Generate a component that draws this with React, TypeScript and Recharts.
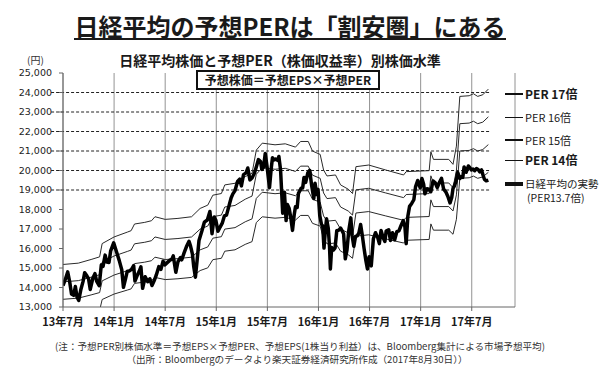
import React from 'react';
import { LineChart, Line, XAxis, YAxis, CartesianGrid, ReferenceLine } from 'recharts';

// months since 2013-07-01
const nikkeiMonths = [
  0.0, 0.3, 0.55, 0.8, 1.0, 1.25, 1.45, 1.65, 1.85, 2.1, 2.35, 2.55, 2.8, 3.0, 3.2, 3.5, 3.75, 3.95,
  4.25, 4.5, 4.7, 4.95, 5.15, 5.4, 5.6, 5.95, 6.3, 6.6, 6.9, 7.1, 7.35, 7.55, 7.8, 8.05, 8.3, 8.45,
  8.7, 8.95, 9.15, 9.35, 9.65, 9.95, 10.2, 10.45, 10.7, 10.95, 11.25, 11.5, 11.75, 11.95, 12.3, 12.5,
  12.8, 12.95, 13.25, 13.5, 13.8, 13.95, 14.2, 14.5, 14.8, 14.95, 15.2, 15.35, 15.55, 15.75, 15.97,
  16.3, 16.6, 16.95, 17.25, 17.5, 17.75, 17.95, 18.2, 18.45, 18.7, 18.95, 19.2, 19.5, 19.75, 19.95,
  20.2, 20.5, 20.75, 20.95, 21.2, 21.5, 21.7, 21.95, 22.2, 22.5, 22.75, 22.95, 23.2, 23.35, 23.55,
  23.75, 23.95, 24.25, 24.45, 24.6, 24.8, 24.95, 25.2, 25.35, 25.55, 25.8, 26.0, 26.2, 26.35, 26.55,
  26.75, 26.95, 27.15, 27.3, 27.5, 27.65, 27.95, 28.15, 28.3, 28.5, 28.75, 28.97, 29.2, 29.45, 29.6,
  29.8, 29.95, 30.15, 30.35, 30.5, 30.65, 30.8, 30.95, 31.15, 31.3, 31.4, 31.55, 31.75, 31.95, 32.15,
  32.4, 32.6, 32.8, 32.95, 33.15, 33.35, 33.55, 33.8, 33.95, 34.15, 34.35, 34.55, 34.75, 34.95, 35.15,
  35.35, 35.55, 35.75, 35.95, 36.2, 36.45, 36.7, 36.95, 37.15, 37.35, 37.6, 37.8, 37.95, 38.25, 38.45,
  38.7, 38.95, 39.2, 39.45, 39.7, 39.95, 40.15, 40.3, 40.5, 40.7, 40.95, 41.2, 41.4, 41.65, 41.95,
  42.15, 42.35, 42.5, 42.75, 42.95, 43.2, 43.45, 43.7, 43.95, 44.2, 44.45, 44.7, 44.95, 45.2, 45.45,
  45.65, 45.8, 45.95, 46.15, 46.35, 46.6, 46.8, 46.95, 47.1, 47.35, 47.6, 47.8, 47.95, 48.15, 48.35,
  48.55, 48.75, 48.95, 49.15, 49.35, 49.5, 49.7, 49.95,
];
const nikkeiClose = [
  14100, 14450, 14800, 14250, 13670, 13600, 14050, 13500, 13340, 13900, 14300, 14760, 14600, 14450, 13900, 14470, 14710, 14330,
  14090, 15160, 15080, 15660, 15300, 15280, 15880, 16290, 15810, 15390, 14910, 14010, 14460, 14840, 14850, 14930, 15120, 14330,
  14600, 14830, 15060, 13960, 14550, 14300, 14450, 14100, 14340, 14630, 15070, 14930, 15350, 15160, 15300, 15380,
  15460, 15620, 14780, 15320, 15540, 15420, 15750, 16100, 16370, 16170, 15710, 15080, 14530, 15390, 16410,
  16880, 17350, 17460, 17900, 16760, 17620, 17450, 16880, 17100, 17300, 17670, 17710, 18200, 18600, 18800,
  18970, 19440, 19560, 19210, 19790, 19880, 20130, 19520, 19620, 19890, 20260, 20560, 20460, 20050, 20170,
  20870, 20240, 19120, 20100, 20650, 20540, 20590, 20520, 20720, 20030, 17810, 18890, 17430, 18260, 18070,
  17570, 16930, 17730, 18140, 18100, 18830, 19080, 19120, 19640, 19390, 19880, 20010, 19230, 18560, 19350,
  18770, 19030, 17700, 17240, 17150, 16020, 16890, 17520, 17040, 16080, 14950, 16050, 15920, 16030, 16910,
  16940, 17050, 16890, 16760, 15470, 15930, 16880, 17570, 16670, 16110, 16620, 16650, 16800, 17230, 16670,
  16020, 15430, 14950, 15580, 15110, 16500, 16810, 16570, 16250, 16920, 16550, 16360, 16890, 16960, 16410,
  16810, 16450, 16860, 16900, 17180, 17430, 17130, 16250, 17670, 18160, 18310, 18500, 19160, 19490, 19110,
  19590, 19290, 18810, 19060, 19040, 18910, 19460, 19380, 19120, 19380, 19600, 19040, 18910, 18670, 18340,
  18620, 19080, 19200, 19450, 19900, 19590, 19690, 19650, 20180, 19910, 20230, 20130, 20030, 20080, 19990,
  20100, 20050, 19930, 20030, 19730, 19540, 19470, 19510,
];

const epsMonths = [
  0, 1.8, 3.3, 4.3, 4.6, 6.0, 7.6, 8.0, 8.4, 9.6, 10.4, 10.8, 12.0, 13.5, 15.1, 16.1, 17.0, 17.6, 18.6,
  19.0, 20.2, 21.4, 22.2, 22.7, 23.4, 24.9, 26.1, 27.3, 27.9, 28.8, 29.3, 30.2, 30.6, 31.0, 32.0, 32.6,
  33.5, 34.0, 34.4, 35.9, 37.9, 40.0, 40.3, 43.0, 43.2, 43.5, 45.3, 45.8, 46.2, 46.6, 47.7, 48.2, 48.7,
  49.3, 49.95,
];
const forwardEps = [
  893, 897, 908, 916, 956, 976, 991, 995, 1015, 1020, 1025, 1037, 1029, 1032, 1037, 1062, 1072, 1102, 1107,
  1133, 1138, 1158, 1168, 1238, 1259, 1254, 1257, 1247, 1264, 1264, 1235, 1225, 1178, 1160, 1163, 1133,
  1120, 1107, 1188, 1193, 1178, 1163, 1173, 1176, 1233, 1210, 1210, 1195, 1250, 1400, 1402, 1408, 1400,
  1405, 1422,
];
const perMultiples = [17, 16, 15, 14];

const xTicks = [0, 6, 12, 18, 24, 30, 36, 42, 48];
const xTickLabels = ['13年7月', '14年1月', '14年7月', '15年1月', '15年7月', '16年1月', '16年7月', '17年1月', '17年7月'];
const yTicks = [13000, 14000, 15000, 16000, 17000, 18000, 19000, 20000, 21000, 22000, 23000, 24000, 25000];
const dashedLevels = [19000, 20000, 21000, 22000, 23000, 24000];

const legendItems = [
  { label: 'PER 17倍', cy: 94, bold: true, size: 12, thick: 1.2 },
  { label: 'PER 16倍', cy: 117, bold: false, size: 11, thick: 1 },
  { label: 'PER 15倍', cy: 140, bold: false, size: 11, thick: 1.2 },
  { label: 'PER 14倍', cy: 160, bold: true, size: 12, thick: 1 },
  { label: '日経平均の実勢', cy: 184, bold: false, size: 10.5, thick: 3.5 },
];

const jp = '"Noto Sans CJK JP", "Noto Sans", sans-serif';

export default function App() {
  const nikkeiData = nikkeiMonths.map((t, i) => ({ t, v: nikkeiClose[i] }));
  const perData = perMultiples.map((p) => epsMonths.map((t, i) => ({ t, v: forwardEps[i] * p })));

  return (
    <div style={{ position: 'absolute', left: 0, top: 0, width: 600, height: 366, background: '#fff', fontFamily: jp, color: '#1a1a1a', overflow: 'hidden' }}>
      <LineChart width={600} height={366} margin={{ top: 73, right: 85, bottom: 30, left: 0 }}>
        <CartesianGrid horizontal={false} stroke="#777" strokeWidth={0.8} />
        <XAxis
          type="number"
          dataKey="t"
          domain={[0, 53.08]}
          ticks={xTicks}
          interval={0}
          allowDataOverflow
          height={29}
          tickSize={4}
          tickMargin={7}
          tickFormatter={(v: number) => xTickLabels[xTicks.indexOf(v)]}
          axisLine={{ stroke: '#666' }}
          tickLine={{ stroke: '#666' }}
          tick={{ fontSize: 11, fontWeight: 700, fill: '#1a1a1a', fontFamily: jp }}
        />
        <YAxis
          type="number"
          domain={[13000, 25000]}
          ticks={yTicks}
          interval={0}
          allowDataOverflow
          width={63}
          tickSize={4}
          tickMargin={7}
          tickFormatter={(v: number) => v.toLocaleString('en-US')}
          axisLine={{ stroke: '#666' }}
          tickLine={{ stroke: '#666' }}
          tick={{ fontSize: 9.5, fill: '#222', fontFamily: '"DejaVu Sans", sans-serif' }}
        />
        {dashedLevels.map((lv) => (
          <ReferenceLine
            key={lv}
            segment={[{ x: -1.4, y: lv }, { x: 50.2, y: lv }]}
            stroke="#222"
            strokeWidth={1}
            strokeDasharray="3 2"
            ifOverflow="visible"
          />
        ))}
        {perMultiples.map((p, i) => (
          <Line
            key={p}
            data={perData[i]}
            dataKey="v"
            type="linear"
            stroke="#2a2a2a"
            strokeWidth={1}
            dot={false}
            isAnimationActive={false}
          />
        ))}
        <Line data={nikkeiData} dataKey="v" type="linear" stroke="#000" strokeWidth={3.5} strokeLinejoin="round" dot={false} isAnimationActive={false} />
      </LineChart>

      {/* title */}
      <div style={{ position: 'absolute', left: 0, top: 14, width: 580, textAlign: 'center' }}>
        <span style={{ display: 'inline-block', fontSize: 24, fontWeight: 700, lineHeight: '24px', borderBottom: '2px solid #1a1a1a' }}>
          日経平均の予想PERは「割安圏」にある
        </span>
      </div>
      <div style={{ position: 'absolute', left: 0, top: 52, width: 560, textAlign: 'center', fontSize: 14, fontWeight: 700, lineHeight: '16px' }}>
        日経平均株価と予想PER（株価収益率）別株価水準
      </div>
      <div style={{ position: 'absolute', left: 27, top: 54, fontSize: 10, lineHeight: '12px', color: '#333' }}>(円)</div>

      <div style={{ position: 'absolute', left: 196, top: 70, width: 180, height: 16, border: '2px solid #111', background: '#fff', textAlign: 'center', fontSize: 12, fontWeight: 700, lineHeight: '16px' }}>
        予想株価＝予想EPS×予想PER
      </div>

      {legendItems.map((it) => (
        <React.Fragment key={it.label}>
          <div style={{ position: 'absolute', left: 505, top: it.cy - it.thick / 2, width: 18, height: it.thick, background: '#111' }} />
          <div style={{ position: 'absolute', left: 525, top: it.cy - 8, fontSize: it.size, fontWeight: it.bold ? 700 : 400, lineHeight: '16px', whiteSpace: 'nowrap' }}>
            {it.label}
          </div>
        </React.Fragment>
      ))}
      <div style={{ position: 'absolute', left: 527, top: 191, fontSize: 10.5, lineHeight: '14px', whiteSpace: 'nowrap' }}>(PER13.7倍)</div>

      <div style={{ position: 'absolute', left: 0, top: 341, width: 600, textAlign: 'center', fontSize: 9.6, lineHeight: '11px', color: '#333', whiteSpace: 'nowrap' }}>
        (注：予想PER別株価水準＝予想EPS×予想PER、予想EPS(1株当り利益）は、Bloomberg集計による市場予想平均)
      </div>
      <div style={{ position: 'absolute', left: 0, top: 354, width: 594, textAlign: 'center', fontSize: 9.6, lineHeight: '11px', color: '#333', whiteSpace: 'nowrap' }}>
        （出所：Bloombergのデータより楽天証券経済研究所作成（2017年8月30日））
      </div>
    </div>
  );
}
